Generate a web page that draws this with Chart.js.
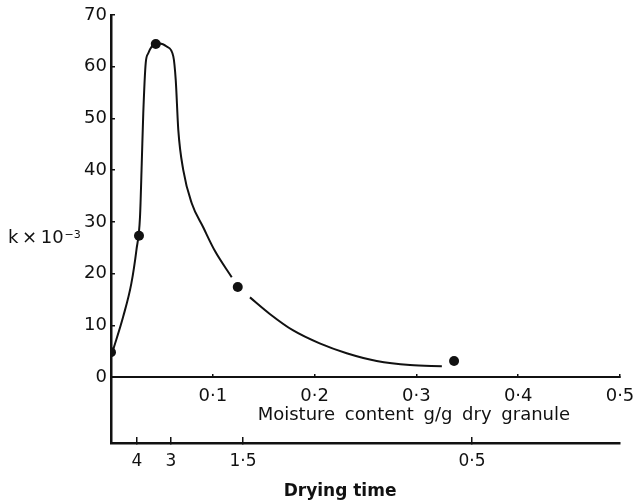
<!DOCTYPE html>
<html lang="en">
  <head>
    <meta charset="UTF-8" />
    <title>k versus moisture content</title>
    <style>
      body {
        margin: 0;
        background: #fff;
      }
    </style>
    <script src="https://cdn.jsdelivr.net/npm/chart.js"></script>
  </head>
  <body>
    <canvas id="kChart" width="635" height="501"></canvas>

    <script>
      // measured points: moisture content (g/g) and k x 10^-3
      const moisture = [0, 0.0275, 0.044, 0.1245, 0.337];
      const kValues = [4.8, 27.3, 64.4, 17.4, 3.1];

      // the hand drawn curve (null = break in the line)
      const curveMoisture = [
        0.002, 0.012, 0.02, 0.025, 0.0285, 0.0302, 0.0317, 0.0341, 0.0366,
        0.0403, 0.044, 0.048, 0.0547, 0.0612, 0.0636, 0.0661, 0.071, 0.0793,
        0.0907, 0.102, 0.1186, 0.127, 0.1365, 0.156, 0.179, 0.205, 0.2315,
        0.261, 0.2937, 0.325,
      ];
      const curveK = [
        5.2, 11.7, 18.1, 24.6, 31.0, 41.3, 51.0, 60.7, 62.6, 64.0, 64.5, 64.5,
        63.9, 62.0, 57.4, 47.8, 40.0, 33.6, 28.9, 24.4, 19.3, null, 15.4, 12.2,
        9.0, 6.5, 4.6, 3.1, 2.3, 2.1,
      ];

      const moistureTicks = [0.1, 0.2, 0.3, 0.4, 0.5];
      const kTicks = [0, 10, 20, 30, 40, 50, 60, 70];
      // drying time (h) marked on the lower axis, at the moisture it matches
      const dryingTimeLabels = ["4", "3", "1·5", "0·5"];
      const dryingTimeAt = [0.0255, 0.0589, 0.1297, 0.3546];

      const ink = "#111";
      const fontName = "'DejaVu Sans', sans-serif";

      // labels may hang over the plot edges, don't let them shrink it
      function noOverflow(scale) {
        scale.paddingLeft = 0;
        scale.paddingRight = 0;
        scale.paddingTop = 0;
        scale.paddingBottom = 0;
      }

      const figureText = {
        id: "figureText",
        afterDraw(chart) {
          const { ctx, scales } = chart;
          ctx.save();
          ctx.fillStyle = ink;
          ctx.textBaseline = "alphabetic";

          ctx.font = "18px " + fontName;
          ctx.textAlign = "center";
          ctx.wordSpacing = "4px";
          ctx.fillText(
            "Moisture content g/g dry granule",
            scales.x.getPixelForValue(0.2975),
            scales.y.getPixelForValue(0) + 43
          );
          ctx.wordSpacing = "0px";

          ctx.font = "bold 17px " + fontName;
          ctx.fillText(
            "Drying time",
            scales.x2.getPixelForValue(0.225),
            scales.x2.bottom - 5
          );

          // y axis label, written flat
          ctx.textAlign = "left";
          ctx.font = "18px " + fontName;
          const ky = scales.y.getPixelForValue(26);
          const main = "k\u2009×\u200910";
          ctx.fillText(main, 8, ky);
          const w = ctx.measureText(main).width;
          ctx.font = "11px " + fontName;
          ctx.fillText("−3", 8 + w + 1, ky - 5);
          ctx.restore();
        },
      };

      new Chart(document.getElementById("kChart").getContext("2d"), {
        type: "line",
        data: {
          datasets: [
            {
              label: "measured",
              data: moisture.map((m, i) => ({ x: m, y: kValues[i] })),
              showLine: false,
              pointRadius: 5,
              pointBackgroundColor: ink,
              pointBorderWidth: 0,
            },
            {
              label: "curve",
              data: curveMoisture.map((m, i) => ({ x: m, y: curveK[i] })),
              borderColor: ink,
              borderWidth: 2,
              pointRadius: 0,
              cubicInterpolationMode: "monotone",
              spanGaps: false,
            },
          ],
        },
        options: {
          responsive: false,
          animation: false,
          layout: { padding: { top: 15, right: 15, left: 0, bottom: 0 } },
          plugins: {
            legend: { display: false },
            tooltip: { enabled: false },
          },
          scales: {
            x: {
              type: "linear",
              position: { y: 0 },
              min: 0,
              max: 0.5,
              afterBuildTicks: (scale) => {
                scale.ticks = moistureTicks.map((v) => ({ value: v }));
              },
              afterFit: noOverflow,
              ticks: {
                color: ink,
                font: { family: fontName, size: 18 },
                padding: 13,
                maxRotation: 0,
                autoSkip: false,
                callback: (v) => v.toFixed(1).replace(".", "·"),
              },
              grid: {
                drawOnChartArea: false,
                color: ink,
                lineWidth: 1.5,
                tickLength: -4,
              },
              border: { color: ink, width: 2 },
            },
            x2: {
              type: "linear",
              position: "bottom",
              min: 0,
              max: 0.5,
              afterBuildTicks: (scale) => {
                scale.ticks = dryingTimeAt.map((v) => ({ value: v }));
              },
              afterFit: (scale) => {
                noOverflow(scale);
                scale.height = 58;
              },
              ticks: {
                color: ink,
                font: { family: fontName, size: 17 },
                padding: 14,
                maxRotation: 0,
                autoSkip: false,
                callback: (v, i) => dryingTimeLabels[i],
              },
              grid: {
                drawOnChartArea: false,
                color: ink,
                lineWidth: 1.5,
                tickLength: -6,
              },
              border: { color: ink, width: 2.5 },
            },
            y: {
              min: -12.76,
              max: 70,
              afterBuildTicks: (scale) => {
                scale.ticks = kTicks.map((v) => ({ value: v }));
              },
              afterFit: (scale) => {
                noOverflow(scale);
                scale.width = 111;
              },
              ticks: {
                color: ink,
                font: { family: fontName, size: 18 },
                padding: 8,
              },
              grid: {
                drawOnChartArea: false,
                color: ink,
                lineWidth: 1.5,
                tickLength: -4,
              },
              border: { color: ink, width: 2.5 },
            },
          },
        },
        plugins: [figureText],
      });
    </script>
  </body>
</html>
